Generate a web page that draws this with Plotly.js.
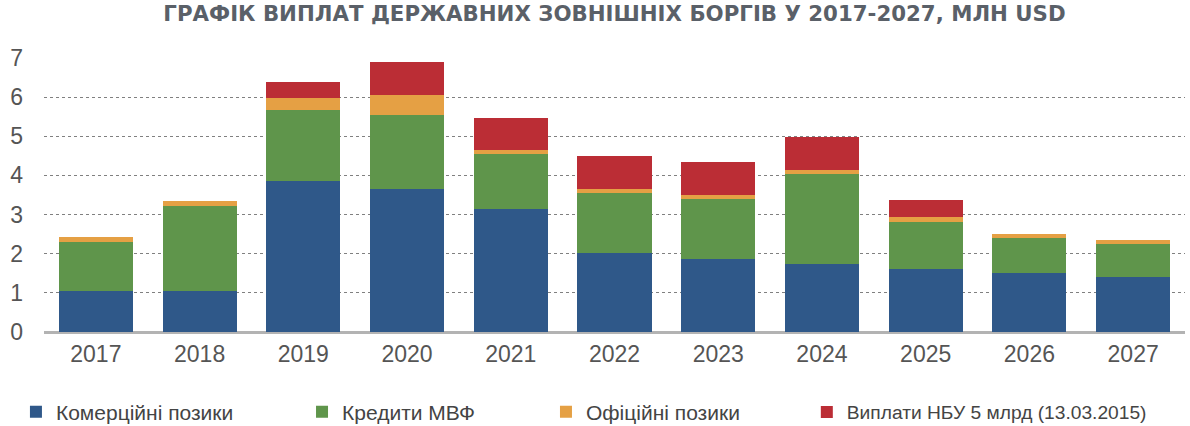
<!DOCTYPE html>
<html>
<head>
<meta charset="utf-8">
<script src="https://cdn.plot.ly/plotly-3.0.1.min.js"></script>
<style>html,body{margin:0;padding:0;background:#fff}#chart{width:1190px;height:426px}</style>
</head>
<body>
<div id="chart"></div>
<script>
const years = ['2017','2018','2019','2020','2021','2022','2023','2024','2025','2026','2027'];
const commercial = [1.05,1.05,3.87,3.66,3.15,2.01,1.87,1.74,1.62,1.51,1.40];
const imf = [1.25,2.16,1.80,1.89,1.39,1.54,1.52,2.29,1.20,0.88,0.85];
const official = [0.13,0.13,0.30,0.51,0.11,0.11,0.12,0.12,0.12,0.12,0.11];
const nbu = [0,0,0.41,0.83,0.83,0.83,0.84,0.83,0.42,0,0];
const names = ['Комерційні позики','Кредити МВФ','Офіційні позики','Виплати НБУ 5 млрд (13.03.2015)'];
const colors = ['#2f5889','#5f954b','#e5a044','#bb2d35'];
const series = [commercial, imf, official, nbu];
const legendIds = ['legend','legend2','legend3','legend4'];
const legendX = [0.0134, 0.2538, 0.4588, 0.678];
const legendSize = [21, 21, 21, 19.2];

const traces = series.map((s,i)=>({
  type:'bar', x:years, y:s, name:names[i],
  marker:{color:colors[i], line:{width:0}},
  legend: legendIds[i],
  hoverinfo:'skip'
}));

const legendBase = {orientation:'h', xref:'container', yref:'container',
  y:1-412/426, yanchor:'middle', xanchor:'left',
  bgcolor:'rgba(0,0,0,0)', itemwidth:30};

const layout = {
  width:1190, height:426,
  margin:{l:44, r:5, t:58, b:94, autoexpand:false},
  paper_bgcolor:'#fff', plot_bgcolor:'#fff',
  barmode:'stack', bargap:0.286,
  font:{family:'Liberation Sans, Arial, sans-serif', color:'#555'},
  title:{text:'ГРАФІК ВИПЛАТ ДЕРЖАВНИХ ЗОВНІШНІХ БОРГІВ У 2017-2027, МЛН USD',
    font:{family:'DejaVu Sans, sans-serif', size:21.3, weight:'bold', color:'#5a6068'},
    x:0.5, xanchor:'center', xref:'paper', y:1-14/426, yref:'container', yanchor:'middle'},
  xaxis:{type:'category', showgrid:false, ticks:'', showline:false, zeroline:false,
    tickfont:{size:23, color:'#555'}, ticklabelstandoff:6},
  yaxis:{range:[0,7], dtick:1, showgrid:true, gridcolor:'#808080', griddash:'dot', gridwidth:1,
    zeroline:true, zerolinecolor:'#b3b3b3', zerolinewidth:3, showline:false, ticks:'',
    tickfont:{size:23, color:'#555'}, ticklabelstandoff:20},
  showlegend:true
};
legendIds.forEach((id,i)=>{
  layout[id] = Object.assign({}, legendBase, {x:legendX[i],
    font:{family:'Liberation Sans, Arial, sans-serif', size:legendSize[i], color:'#444'}});
});

Plotly.newPlot('chart', traces, layout, {displayModeBar:false, staticPlot:true});
</script>
</body>
</html>
